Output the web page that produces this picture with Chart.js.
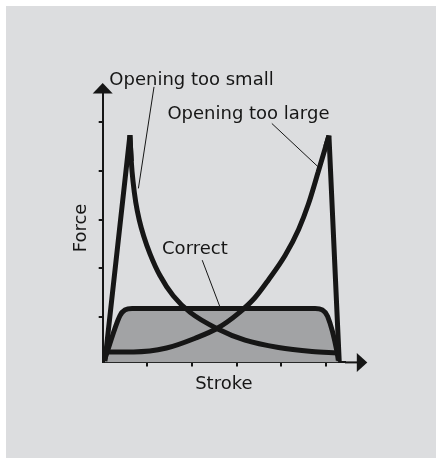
<!DOCTYPE html>
<html>
<head>
<meta charset="utf-8">
<script src="https://cdn.jsdelivr.net/npm/chart.js@4.4.1/dist/chart.umd.min.js"></script>
<style>
  html, body { margin: 0; padding: 0; background: #ffffff; }
  #panel { position: absolute; left: 6px; top: 6px; width: 430px; height: 452px; background: #dcdddf; }
</style>
</head>
<body>
<div id="panel"><canvas id="forces" width="430" height="452"></canvas></div>
<script>
// stroke (x) and force (y) readings, in tick units
const smallRiseX = [0.05, 0.61, 0.64];
const smallRiseY = [0.10, 4.73, 4.20];
const smallDecayX = [0.61, 0.64, 0.68, 0.74, 0.82, 0.92, 1.06, 1.28, 1.58, 1.96, 2.58, 3.19, 3.94, 4.69, 5.25];
const smallDecayY = [4.73, 4.20, 3.78, 3.36, 2.99, 2.66, 2.30, 1.86, 1.44, 1.10, 0.76, 0.53, 0.38, 0.30, 0.27];

const largeRiseX = [0.05, 0.69, 1.43, 2.07, 2.58, 3.04, 3.41, 3.71, 4.09, 4.39, 4.61, 4.83, 5.07];
const largeRiseY = [0.29, 0.29, 0.37, 0.57, 0.78, 1.08, 1.40, 1.76, 2.27, 2.80, 3.32, 3.98, 4.72];
const largeDropX = [5.00, 5.07, 5.30];
const largeDropY = [4.50, 4.72, 0.10];

const correctX = [0.05, 0.39, 0.50, 0.66, 4.76, 4.92, 5.04, 5.25, 5.28];
const correctY = [0.15, 1.04, 1.15, 1.18, 1.18, 1.15, 1.02, 0.30, 0.12];

const tickValues = [1, 2, 3, 4, 5];

const ink = '#161616';
const shade = '#a2a3a5';
const font = '"DejaVu Sans", sans-serif';

// labels with their leader lines (data units)
const notes = [
    { text: 'Opening too small', x: 0.148, y: 5.76, from: [1.15, 5.72], to: [0.80, 3.64] },
    { text: 'Opening too large', x: 1.45, y: 5.06, from: [3.79, 4.97], to: [4.83, 4.08] },
    { text: 'Correct', x: 1.33, y: 2.305, from: [2.23, 2.17], to: [2.62, 1.23] },
];

const toPoints = (xs, ys) => xs.map((x, i) => ({ x: x, y: ys[i] }));

const curve = (xs, ys, smooth) => ({
    data: toPoints(xs, ys),
    borderColor: ink,
    borderWidth: 5,
    borderJoinStyle: 'bevel',
    borderCapStyle: 'butt',
    pointRadius: 0,
    fill: false,
    tension: 0,
    cubicInterpolationMode: smooth ? 'monotone' : 'default',
});

// arrow heads and annotations
const sketchPlugin = {
    id: 'sketch',
    afterDatasetsDraw(chart) {
        const { ctx, chartArea, scales } = chart;
        const xs = scales.x, ys = scales.y;
        ctx.save();
        ctx.fillStyle = ink;
        ctx.strokeStyle = ink;

        // x axis arrow
        const ay = chartArea.bottom;
        const tipX = xs.getPixelForValue(5.93);
        ctx.lineWidth = 2;
        ctx.beginPath();
        ctx.moveTo(chartArea.right, ay);
        ctx.lineTo(tipX - 8, ay);
        ctx.stroke();
        ctx.beginPath();
        ctx.moveTo(tipX, ay);
        ctx.lineTo(tipX - 10.5, ay - 9.5);
        ctx.lineTo(tipX - 10.5, ay + 9.5);
        ctx.closePath();
        ctx.fill();

        // y axis arrow
        const ax = chartArea.left;
        const tipY = ys.getPixelForValue(5.80);
        ctx.beginPath();
        ctx.moveTo(ax, tipY);
        ctx.lineTo(ax - 10, tipY + 10.5);
        ctx.lineTo(ax + 10, tipY + 10.5);
        ctx.closePath();
        ctx.fill();

        // notes
        ctx.font = '18px ' + font;
        ctx.textAlign = 'left';
        ctx.textBaseline = 'alphabetic';
        ctx.lineWidth = 1;
        notes.forEach(n => {
            ctx.fillText(n.text, xs.getPixelForValue(n.x), ys.getPixelForValue(n.y));
            ctx.beginPath();
            ctx.moveTo(xs.getPixelForValue(n.from[0]), ys.getPixelForValue(n.from[1]));
            ctx.lineTo(xs.getPixelForValue(n.to[0]), ys.getPixelForValue(n.to[1]));
            ctx.stroke();
        });
        ctx.restore();
    }
};

const axisStyle = (title, pad) => ({
    type: 'linear',
    afterBuildTicks: s => { s.ticks = tickValues.map(v => ({ value: v })); },
    ticks: { display: false },
    grid: { drawOnChartArea: false, drawTicks: true, tickLength: 4, color: ink, lineWidth: 2 },
    border: { display: true, color: ink, width: 2 },
    title: { display: true, text: title, color: ink, font: { family: font, size: 18 }, padding: pad },
});

const correctSet = curve(correctX, correctY, true);
correctSet.fill = 'start';
correctSet.backgroundColor = shade;

new Chart(document.getElementById('forces'), {
    type: 'line',
    data: {
        datasets: [
            curve(smallRiseX, smallRiseY, false),
            curve(smallDecayX, smallDecayY, true),
            curve(largeRiseX, largeRiseY, true),
            curve(largeDropX, largeDropY, false),
            correctSet,
        ]
    },
    options: {
        responsive: false,
        animation: false,
        layout: { padding: { left: 64.5, right: 91, top: 87.5, bottom: 63 } },
        plugins: { legend: { display: false }, tooltip: { enabled: false } },
        scales: {
            x: Object.assign(axisStyle('Stroke', { top: 7, bottom: 0 }), { min: 0, max: 5.43 }),
            y: Object.assign(axisStyle('Force', { top: 0, bottom: 6.6 }), { min: 0.076, max: 5.584 }),
        }
    },
    plugins: [sketchPlugin]
});
</script>
</body>
</html>
